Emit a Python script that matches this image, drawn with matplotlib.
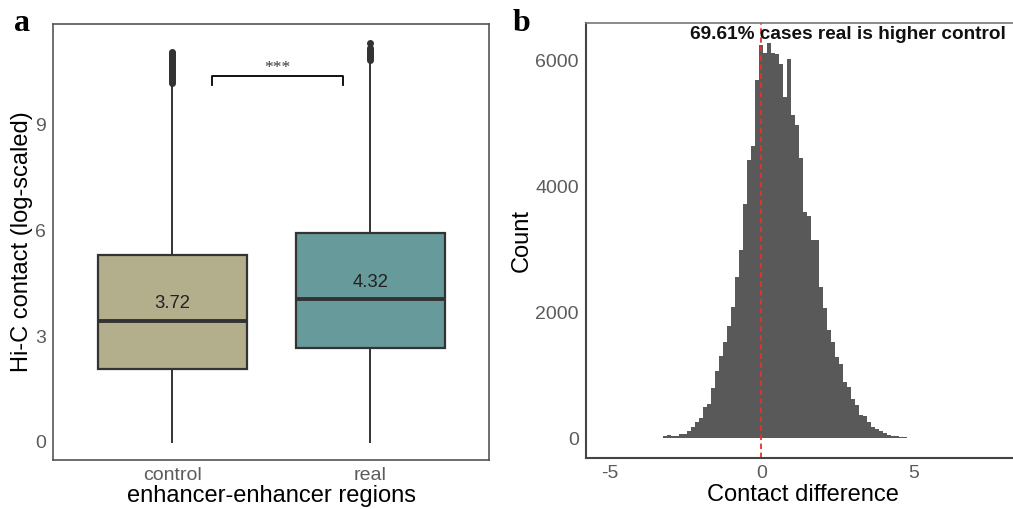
import numpy as np
import matplotlib
matplotlib.use("Agg")
import matplotlib.pyplot as plt

plt.rcParams['font.family'] = ['Liberation Sans', 'DejaVu Sans']
plt.rcParams['axes.unicode_minus'] = False

# -----------------------------
# Panel a: Hi-C contact per group
# -----------------------------
groups = ["control", "real"]
q1 = [2.06, 2.67]
medians = [3.43, 4.05]
q3 = [5.30, 5.94]
whisker_lo = [0.0, 0.0]
whisker_hi = [10.18, 10.84]
means = [3.72, 4.32]
control_outliers = [10.20, 10.24, 10.28, 10.32, 10.36, 10.40, 10.44, 10.48, 10.52,
                    10.56, 10.60, 10.64, 10.68, 10.72, 10.76, 10.80, 10.84, 10.88,
                    10.92, 10.96, 11.00, 11.04, 11.08]
real_outliers = [10.86, 10.90, 10.94, 10.98, 11.02, 11.06, 11.10, 11.14, 11.18, 11.32]
box_colors = ["#b3ae8c", "#679a9b"]
sig_label = "***"

# -----------------------------
# Panel b: contact difference histogram
# -----------------------------
bin_width = 0.1316
bin_index = list(range(-26, 52))
counts = [12, 0, 32, 48, 32, 32, 74, 74, 116, 180, 260, 328, 497, 540, 798, 1068,
          1302, 1524, 1778, 2084, 2560, 2984, 3725, 4413, 4635, 5693, 6238, 6116,
          6280, 6116, 6100, 5937, 5418, 6016, 5127, 4968, 4455, 3592, 3524, 3143,
          3143, 2407, 2074, 1714, 1524, 1290, 1175, 895, 820, 630, 524, 365, 349,
          260, 180, 153, 116, 85, 48, 37, 32, 21, 15, 10, 5, 12, 0, 10, 10, 0, 0, 0,
          0, 9, 0, 0, 0, 9]
pct_higher = 69.61

fig = plt.figure(figsize=(10.13, 5.09), dpi=100)

tick_color = "#5c5c5c"
line_color = "#333333"

# ---- panel a ----
ax1 = fig.add_axes([53.3 / 1013, 49 / 509, 436 / 1013, 436 / 509])
stats = []
for i, g in enumerate(groups):
    stats.append(dict(label=g, q1=q1[i], med=medians[i], q3=q3[i],
                      whislo=whisker_lo[i], whishi=whisker_hi[i],
                      fliers=control_outliers if i == 0 else real_outliers))
bp = ax1.bxp(stats, positions=[1, 2], widths=0.75, patch_artist=True,
             showcaps=False,
             boxprops=dict(edgecolor=line_color, linewidth=1.6),
             medianprops=dict(color=line_color, linewidth=2.8),
             whiskerprops=dict(color=line_color, linewidth=1.4),
             flierprops=dict(marker="o", markersize=4, markerfacecolor=line_color,
                             markeredgecolor=line_color))
for patch, c in zip(bp["boxes"], box_colors):
    patch.set_facecolor(c)

for i, m in enumerate(means):
    ax1.text(i + 1, m + 0.2, f"{m:.2f}", ha="center", va="center",
             fontsize=13.3, color="#222222")

# significance bracket
ax1.plot([1.2, 1.2, 1.86, 1.86], [10.13, 10.39, 10.39, 10.13], color="black", lw=1.3)
ax1.text(1.53, 10.62, sig_label, ha="center", va="center", fontsize=12.5,
         color="#3a3a3a", family=["Liberation Serif"])

ax1.set_xlim(0.4, 2.6)
ax1.set_ylim(-0.52, 11.87)
ax1.set_yticks([0, 3, 6, 9])
ax1.set_xticks([1, 2])
ax1.set_xticklabels(groups)
ax1.tick_params(length=0, labelsize=14, labelcolor=tick_color, pad=5)
ax1.set_xlabel("enhancer-enhancer regions", fontsize=17, labelpad=1)
ax1.set_ylabel("Hi-C contact (log-scaled)", fontsize=17, labelpad=2)
for s in ax1.spines.values():
    s.set_color("#555555")
    s.set_linewidth(1.2)

# ---- panel b ----
ax2 = fig.add_axes([585.7 / 1013, 50.7 / 509, (1020 - 585.7) / 1013, 435.6 / 509])
centers = np.array(bin_index) * bin_width
ax2.bar(centers, counts, width=bin_width, color="#595959", linewidth=0)
ax2.axvline(0, color="#e8312b", lw=1.3, ls=(0, (3, 2)))
ax2.text(2.84, 6402, f"{pct_higher:.2f}% cases real is higher control",
         ha="center", va="center", fontsize=13.7, fontweight="bold", color="#111111")

ax2.set_xlim(-5.78, 8.51)
ax2.set_ylim(-317, 6597)
ax2.set_xticks([-5, 0, 5])
ax2.set_yticks([0, 2000, 4000, 6000])
ax2.tick_params(length=0, labelsize=14, labelcolor=tick_color, pad=5)
ax2.set_xlabel("Contact difference", fontsize=17, labelpad=1)
ax2.set_ylabel("Count", fontsize=17, labelpad=2)
ax2.spines["right"].set_visible(False)
for side in ["left", "bottom"]:
    ax2.spines[side].set_color("#444444")
    ax2.spines[side].set_linewidth(1.5)
ax2.spines["top"].set_color("#777777")
ax2.spines["top"].set_linewidth(1.2)

# panel letters
fig.text(14 / 1013, 1 - 31 / 509, "a", fontsize=23, fontweight="bold",
         family=["Liberation Serif"])
fig.text(513 / 1013, 1 - 31 / 509, "b", fontsize=23, fontweight="bold",
         family=["Liberation Serif"])

fig.savefig("out.png", dpi=100)
